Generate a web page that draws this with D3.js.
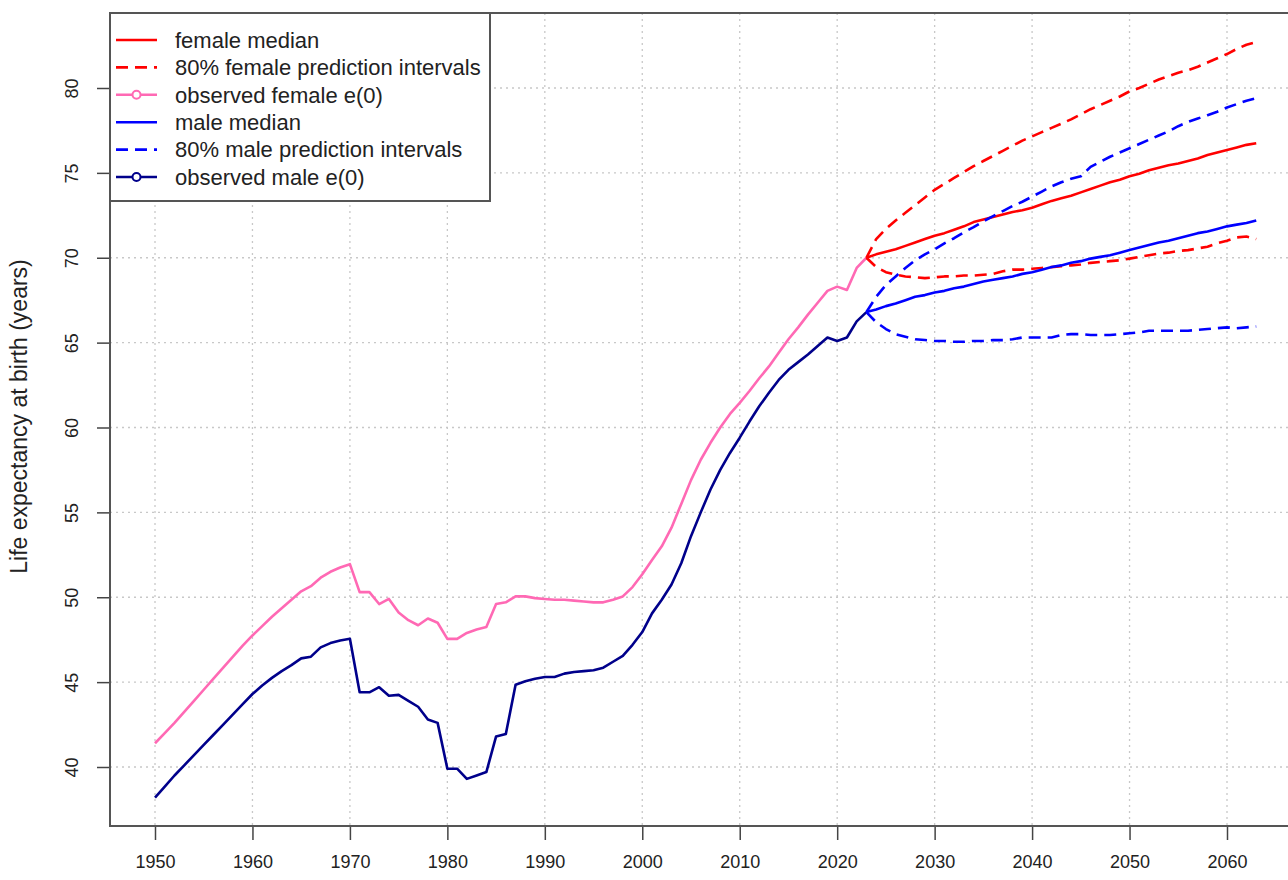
<!DOCTYPE html>
<html>
<head>
<meta charset="utf-8">
<script src="https://cdn.jsdelivr.net/npm/d3@7"></script>
<style>
  body { margin: 0; background: #fff; }
  svg { display: block; font-family: "Liberation Sans", Arial, sans-serif; }
</style>
</head>
<body>
<svg width="1288" height="880"></svg>
<script>
// observed e(0), 1950-2023
var obsYears = d3.range(1950, 2024);
var femaleObs = [41.4, 42.0, 42.6, 43.25, 43.9, 44.55, 45.2, 45.85, 46.5, 47.15,
  47.75, 48.3, 48.85, 49.35, 49.85, 50.35, 50.65, 51.15, 51.5, 51.75,
  51.95, 50.3, 50.3, 49.6, 49.9, 49.1, 48.65, 48.35, 48.75, 48.5,
  47.55, 47.55, 47.9, 48.1, 48.25, 49.6, 49.7, 50.05, 50.05, 49.95,
  49.9, 49.85, 49.85, 49.8, 49.75, 49.7, 49.7, 49.85, 50.05, 50.6,
  51.35, 52.2, 53.0, 54.1, 55.5, 56.9, 58.1, 59.1, 60.0, 60.8,
  61.45, 62.15, 62.9, 63.6, 64.4, 65.2, 65.9, 66.65, 67.35, 68.05,
  68.3, 68.1, 69.4, 70.0];
var maleObs = [38.2, 38.85, 39.5, 40.1, 40.7, 41.3, 41.9, 42.5, 43.1, 43.7,
  44.3, 44.8, 45.25, 45.65, 46.0, 46.4, 46.5, 47.05, 47.3, 47.45,
  47.55, 44.4, 44.4, 44.7, 44.2, 44.25, 43.9, 43.55, 42.8, 42.6,
  39.9, 39.9, 39.3, 39.5, 39.7, 41.8, 41.95, 44.85, 45.05, 45.2,
  45.3, 45.3, 45.5, 45.6, 45.65, 45.7, 45.85, 46.2, 46.55, 47.2,
  47.95, 49.05, 49.85, 50.75, 52.0, 53.6, 55.0, 56.35, 57.5, 58.5,
  59.4, 60.35, 61.25, 62.05, 62.8, 63.4, 63.85, 64.3, 64.8, 65.3,
  65.1, 65.3, 66.25, 66.8];

// projections, 2023-2063
var projYears = d3.range(2023, 2064);
var femaleMedian = [70.0, 70.2, 70.35, 70.5, 70.7, 70.9, 71.1, 71.3, 71.45, 71.65,
  71.85, 72.1, 72.25, 72.4, 72.55, 72.7, 72.8, 72.95, 73.15, 73.35,
  73.5, 73.65, 73.85, 74.05, 74.25, 74.45, 74.6, 74.8, 74.95, 75.15,
  75.3, 75.45, 75.55, 75.7, 75.85, 76.05, 76.2, 76.35, 76.5, 76.65, 76.75];
var femaleUpper = [70.0, 71.1, 71.7, 72.2, 72.65, 73.1, 73.55, 74.0, 74.35, 74.7,
  75.05, 75.4, 75.7, 76.0, 76.3, 76.6, 76.9, 77.15, 77.4, 77.65,
  77.9, 78.15, 78.45, 78.75, 79.0, 79.25, 79.5, 79.8, 80.0, 80.25,
  80.5, 80.7, 80.9, 81.05, 81.25, 81.5, 81.75, 82.0, 82.3, 82.55, 82.7];
var femaleLower = [70.0, 69.45, 69.15, 69.0, 68.9, 68.85, 68.8, 68.85, 68.9, 68.9,
  68.95, 68.95, 69.0, 69.05, 69.2, 69.3, 69.3, 69.35, 69.4, 69.45,
  69.5, 69.55, 69.6, 69.7, 69.75, 69.8, 69.85, 69.95, 70.05, 70.15,
  70.25, 70.3, 70.4, 70.45, 70.55, 70.65, 70.85, 71.0, 71.2, 71.25, 71.1];
var maleMedian = [66.8, 66.95, 67.15, 67.3, 67.5, 67.7, 67.8, 67.95, 68.05, 68.2,
  68.3, 68.45, 68.6, 68.7, 68.8, 68.9, 69.05, 69.15, 69.3, 69.45,
  69.55, 69.7, 69.8, 69.95, 70.05, 70.15, 70.3, 70.45, 70.6, 70.75,
  70.9, 71.0, 71.15, 71.3, 71.45, 71.55, 71.7, 71.85, 71.95, 72.05, 72.2];
var maleUpper = [66.8, 67.7, 68.4, 68.9, 69.4, 69.85, 70.2, 70.5, 70.85, 71.15,
  71.5, 71.8, 72.15, 72.45, 72.75, 73.05, 73.3, 73.6, 73.9, 74.2,
  74.45, 74.65, 74.8, 75.35, 75.65, 75.95, 76.2, 76.45, 76.7, 76.95,
  77.2, 77.45, 77.75, 78.0, 78.2, 78.4, 78.6, 78.85, 79.05, 79.25, 79.4];
var maleLower = [66.8, 66.2, 65.8, 65.5, 65.35, 65.2, 65.15, 65.1, 65.1, 65.05,
  65.05, 65.1, 65.1, 65.15, 65.15, 65.2, 65.3, 65.3, 65.3, 65.3,
  65.45, 65.5, 65.5, 65.45, 65.45, 65.45, 65.5, 65.55, 65.6, 65.7,
  65.7, 65.7, 65.7, 65.7, 65.75, 65.8, 65.85, 65.9, 65.85, 65.9, 65.95];

var xTicks = d3.range(1950, 2061, 10);
var yTicks = d3.range(40, 81, 5);

var legendItems = [
  {label: 'female median', color: '#ff0000', dash: null, dot: false},
  {label: '80% female prediction intervals', color: '#ff0000', dash: '12,7', dot: false},
  {label: 'observed female e(0)', color: '#ff69b4', dash: null, dot: true},
  {label: 'male median', color: '#0000ff', dash: null, dot: false},
  {label: '80% male prediction intervals', color: '#0000ff', dash: '12,7', dot: false},
  {label: 'observed male e(0)', color: '#00008b', dash: null, dot: true}
];

var box = {left: 110, top: 13, right: 1300, bottom: 826};

var svg = d3.select('svg');

var xScale = d3.scaleLinear()
  .domain([1950, 2060])
  .range([155, 1227]);

var yScale = d3.scaleLinear()
  .domain([40, 80])
  .range([767, 88]);

// grid
svg.append('g')
  .selectAll('line')
  .data(xTicks)
  .join('line')
  .attr('x1', d => xScale(d)).attr('x2', d => xScale(d))
  .attr('y1', box.top).attr('y2', box.bottom)
  .attr('stroke', '#c8c8c8').attr('stroke-width', 1.3)
  .attr('stroke-dasharray', '2,4');

svg.append('g')
  .selectAll('line')
  .data(yTicks)
  .join('line')
  .attr('x1', box.left).attr('x2', box.right)
  .attr('y1', d => yScale(d)).attr('y2', d => yScale(d))
  .attr('stroke', '#c8c8c8').attr('stroke-width', 1.3)
  .attr('stroke-dasharray', '2,4');

// axes
var xAxis = d3.axisBottom(xScale)
  .tickValues(xTicks)
  .tickFormat(d3.format('d'))
  .tickSize(14)
  .tickPadding(15);

var gx = svg.append('g')
  .attr('transform', 'translate(' + [0, box.bottom] + ')')
  .call(xAxis);
gx.select('.domain').remove();
gx.selectAll('line').attr('stroke', '#444').attr('stroke-width', 1.5);
gx.selectAll('text').attr('font-size', 18).attr('fill', '#222')
  .attr('font-family', '"Liberation Sans", Arial, sans-serif');

var yAxis = d3.axisLeft(yScale)
  .tickValues(yTicks)
  .tickSize(13)
  .tickFormat(d3.format('d'));

var gy = svg.append('g')
  .attr('transform', 'translate(' + [box.left, 0] + ')')
  .call(yAxis);
gy.select('.domain').remove();
gy.selectAll('line').attr('stroke', '#444').attr('stroke-width', 1.5);
gy.selectAll('text').remove();
gy.selectAll('.tick').append('text')
  .attr('transform', 'translate(-32,0) rotate(-90)')
  .attr('text-anchor', 'middle')
  .attr('font-size', 18)
  .attr('fill', '#222')
  .text(d => d);

svg.append('text')
  .attr('transform', 'translate(27,' + ((box.top + box.bottom) / 2 - 3) + ') rotate(-90)')
  .attr('text-anchor', 'middle')
  .attr('font-size', 23)
  .attr('fill', '#222')
  .text('Life expectancy at birth (years)');

// clip to plot box
svg.append('clipPath').attr('id', 'plotclip')
  .append('rect')
  .attr('x', box.left).attr('y', box.top)
  .attr('width', box.right - box.left).attr('height', box.bottom - box.top);

var plot = svg.append('g').attr('clip-path', 'url(#plotclip)');

var line = d3.line()
  .x(d => xScale(d[0]))
  .y(d => yScale(d[1]));

function drawSeries(years, vals, color, dash) {
  plot.append('path')
    .attr('d', line(years.map((y, i) => [y, vals[i]])))
    .attr('fill', 'none')
    .attr('stroke', color)
    .attr('stroke-width', 2.6)
    .attr('stroke-linejoin', 'round')
    .attr('stroke-dasharray', dash);
}

drawSeries(obsYears, femaleObs, '#ff69b4', null);
drawSeries(obsYears, maleObs, '#00008b', null);
drawSeries(projYears, femaleUpper, '#ff0000', '12,7');
drawSeries(projYears, femaleLower, '#ff0000', '12,7');
drawSeries(projYears, femaleMedian, '#ff0000', null);
drawSeries(projYears, maleUpper, '#0000ff', '12,7');
drawSeries(projYears, maleLower, '#0000ff', '12,7');
drawSeries(projYears, maleMedian, '#0000ff', null);

// plot frame
svg.append('rect')
  .attr('x', box.left).attr('y', box.top)
  .attr('width', box.right - box.left).attr('height', box.bottom - box.top)
  .attr('fill', 'none')
  .attr('stroke', '#555')
  .attr('stroke-width', 2);

// legend
var lg = svg.append('g');
lg.append('rect')
  .attr('x', box.left).attr('y', box.top)
  .attr('width', 380).attr('height', 188)
  .attr('fill', '#fff')
  .attr('stroke', '#555')
  .attr('stroke-width', 2);

var rows = lg.selectAll('g')
  .data(legendItems)
  .join('g')
  .attr('transform', (d, i) => 'translate(0,' + (40 + i * 27.4) + ')');

rows.append('line')
  .attr('x1', 116).attr('x2', 157)
  .attr('stroke', d => d.color)
  .attr('stroke-width', 2.6)
  .attr('stroke-dasharray', d => d.dash);

rows.filter(d => d.dot).append('circle')
  .attr('cx', 136.5).attr('r', 4)
  .attr('fill', '#fff')
  .attr('stroke', d => d.color)
  .attr('stroke-width', 2);

rows.append('text')
  .attr('x', 175)
  .attr('dy', '0.35em')
  .attr('font-size', 22)
  .attr('fill', '#222')
  .text(d => d.label);
</script>
</body>
</html>
